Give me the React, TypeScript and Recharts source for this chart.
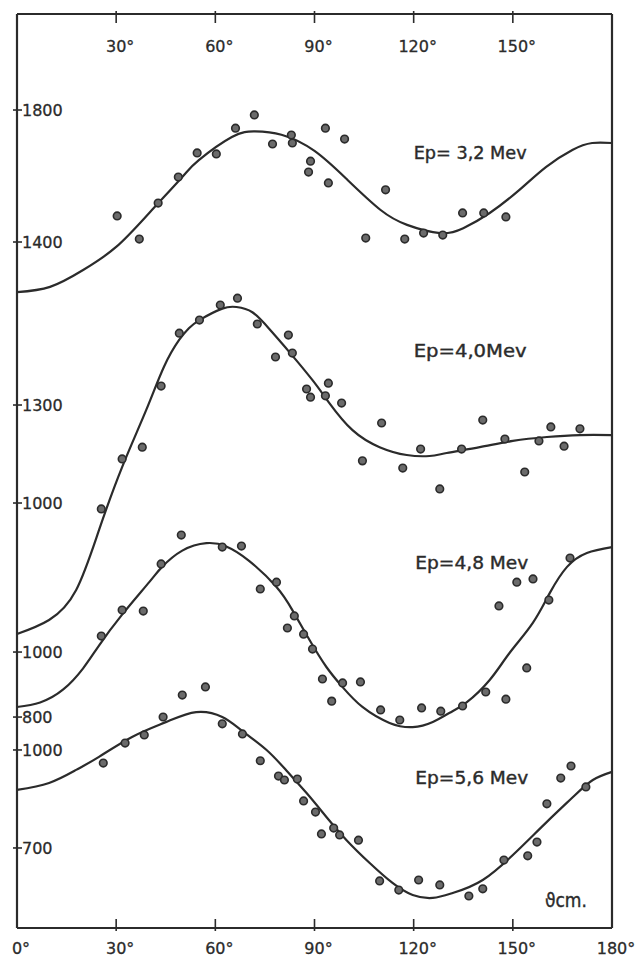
import React from 'react';
import { ComposedChart, Line, Scatter, XAxis, YAxis, ReferenceDot, ReferenceLine } from 'recharts';

// theta c.m. in degrees, counts
const curve32Deg = [0, 10, 20, 30, 40, 50, 55, 65, 72, 80, 90, 100, 110, 118, 128, 135, 143, 152, 160, 168, 174, 180];
const curve32Val = [1248, 1264, 1315, 1385, 1488, 1597, 1648, 1718, 1735, 1725, 1676, 1588, 1497, 1452, 1427, 1442, 1488, 1558, 1627, 1679, 1700, 1700];
const pts32Deg = [30.3, 37, 42.7, 48.8, 54.5, 60.3, 66.1, 71.8, 77.3, 83, 83.3, 88.8, 88.2, 93.3, 94.2, 99.1, 105.5, 111.5, 117.3, 123, 128.8, 134.8, 141.2, 147.9];
const pts32Val = [1479, 1409, 1518, 1597, 1670, 1667, 1745, 1785, 1697, 1724, 1700, 1645, 1612, 1745, 1579, 1712, 1412, 1558, 1409, 1427, 1421, 1488, 1488, 1476];

const curve40Deg = [0, 9.7, 17.9, 24.8, 31.8, 39.1, 44.5, 49.1, 52, 55.2, 62.1, 66.4, 71.2, 76.4, 82.4, 89.4, 94.5, 101.5, 109.7, 117.9, 124.8, 130, 140, 150, 160.3, 170.3, 180];
const curve40Val = [599, 642, 734, 917, 1110, 1285, 1418, 1500, 1535, 1560, 1595, 1600, 1584, 1532, 1462, 1376, 1306, 1223, 1171, 1147, 1144, 1153, 1171, 1190, 1202, 1208, 1208];
const pts40Deg = [25.5, 31.8, 37.9, 43.6, 49.1, 55.2, 61.5, 66.7, 72.7, 78.2, 82.1, 83.3, 87.6, 88.8, 94.2, 93.3, 98.2, 104.5, 110.3, 116.7, 122.1, 127.9, 134.5, 140.9, 147.6, 153.6, 157.9, 161.5, 165.5, 170.3];
const pts40Val = [982, 1135, 1171, 1358, 1520, 1560, 1606, 1627, 1548, 1447, 1514, 1459, 1349, 1324, 1367, 1328, 1306, 1129, 1245, 1107, 1165, 1043, 1165, 1254, 1196, 1095, 1190, 1233, 1174, 1227];

const curve48Deg = [0, 7, 14, 20, 24.8, 31.8, 40, 43.9, 50, 57.3, 63.3, 70.3, 78.5, 83.3, 88.5, 93.6, 98.5, 104.5, 112.7, 119.7, 125.8, 130.9, 136, 143, 149, 156, 161.2, 166.4, 172.4, 180];
const curve48Val = [831, 845, 885, 950, 1020, 1115, 1215, 1262, 1312, 1335, 1325, 1280, 1200, 1129, 1037, 954, 892, 831, 782, 769, 785, 813, 845, 914, 997, 1089, 1182, 1262, 1305, 1323];
const pts48Deg = [25.5, 31.8, 38.2, 43.6, 49.7, 62.1, 67.9, 73.6, 78.5, 81.8, 83.9, 86.7, 89.4, 92.4, 95.2, 98.5, 103.9, 110, 115.8, 122.4, 128.2, 134.8, 141.8, 147.9, 154.2, 145.8, 151.2, 156.1, 160.9, 167.3];
const pts48Val = [1049, 1129, 1126, 1271, 1360, 1323, 1326, 1194, 1215, 1074, 1111, 1055, 1009, 917, 849, 905, 908, 822, 791, 828, 818, 834, 877, 855, 951, 1142, 1215, 1225, 1160, 1289];

const curve56Deg = [0, 9.7, 17.9, 24.8, 34.8, 45.2, 54.2, 62.1, 68.2, 75.5, 81.5, 87.6, 93.6, 99.7, 106.7, 113.6, 119.7, 125.8, 131.8, 140.9, 151.2, 160.3, 168.2, 174.2, 180];
const curve56Val = [878, 899, 939, 979, 1040, 1086, 1116, 1101, 1058, 1000, 937, 868, 795, 724, 654, 593, 556, 547, 562, 602, 690, 780, 856, 908, 933];
const pts56Deg = [26.1, 32.7, 38.5, 44.2, 50, 57, 62.1, 68.2, 73.6, 79.1, 80.9, 84.8, 86.7, 90.3, 92.1, 95.8, 97.6, 103.3, 109.7, 115.5, 121.5, 127.9, 136.7, 140.9, 147.3, 154.5, 157.3, 160.3, 164.5, 167.6, 172.1];
const pts56Val = [960, 1021, 1046, 1101, 1168, 1193, 1080, 1049, 967, 920, 908, 911, 844, 810, 743, 761, 740, 724, 599, 571, 602, 587, 553, 575, 663, 676, 718, 835, 914, 951, 887];

const angleTicks = [0, 30, 60, 90, 120, 150, 180];
const ticks32 = [1400, 1800];
const ticks40 = [1000, 1300];
const ticks48 = [800, 1000];
const ticks56 = [700, 1000];

const INK = '#2b2b2b';
const NUM_FONT = '"DejaVu Sans", sans-serif';
const LBL_FONT = '"DejaVu Sans Condensed", "DejaVu Sans", sans-serif';

const zip = (a: number[], v: number[]) => a.map((x, i) => ({ a: x, v: v[i] }));

const panels = [
  { id: 'p32', xId: 't', domain: [-679, 2091], ticks: ticks32, curve: zip(curve32Deg, curve32Val), pts: zip(pts32Deg, pts32Val), label: 'Ep= 3,2 Mev', lx: 120, ly: 1652 },
  { id: 'p40', xId: 'b', domain: [-301, 2497], ticks: ticks40, curve: zip(curve40Deg, curve40Val), pts: zip(pts40Deg, pts40Val), label: 'Ep=4,0Mev', lx: 120, ly: 1447 },
  { id: 'p48', xId: 'b', domain: [151, 2963], ticks: ticks48, curve: zip(curve48Deg, curve48Val), pts: zip(pts48Deg, pts48Val), label: 'Ep=4,8 Mev', lx: 120.5, ly: 1255 },
  { id: 'p56', xId: 'b', domain: [455, 3253], ticks: ticks56, curve: zip(curve56Deg, curve56Val), pts: zip(pts56Deg, pts56Val), label: 'Ep=5,6 Mev', lx: 120.5, ly: 896 },
];

const numText = { fontFamily: NUM_FONT, fontSize: 16, fill: INK, stroke: INK, strokeWidth: 0.3 };

const BottomTick = (props: any) => {
  const { x, y, payload } = props;
  const v = payload.value;
  return (
    <g>
      {v > 0 && v < 180 && <line x1={x} x2={x} y1={y + 3} y2={y - 9} stroke={INK} strokeWidth={1.6} />}
      <text x={x + 4} y={y + 26} textAnchor="middle" {...numText}>{`${v}°`}</text>
    </g>
  );
};

const TopTick = (props: any) => {
  const { x, y, payload } = props;
  const v = payload.value;
  if (v <= 0 || v >= 180) return <g />;
  return (
    <g>
      <line x1={x} x2={x} y1={y - 3} y2={y + 9} stroke={INK} strokeWidth={1.6} />
      <text x={x + 4} y={y + 38} textAnchor="middle" {...numText}>{`${v}°`}</text>
    </g>
  );
};

const LeftTick = (props: any) => {
  const { x, y, payload, shift = 0 } = props;
  const ax = x + shift;
  return (
    <g>
      <line x1={ax - 4} x2={ax + 5} y1={y} y2={y} stroke={INK} strokeWidth={1.6} />
      <text x={ax + 5} y={y} dy="0.36em" {...numText}>{payload.value}</text>
    </g>
  );
};

const Dot = (p: any) => (
  <circle cx={p.cx} cy={p.cy} r={3.8} fill="#6b6b6b" stroke={INK} strokeWidth={1.6} />
);

const border = { stroke: INK, strokeWidth: 2.2 };

export default function App() {
  return (
    <div style={{ position: 'absolute', left: 0, top: 0, width: 641, height: 959, background: '#fff' }}>
      <ComposedChart width={641} height={959} margin={{ top: 13, right: 29, bottom: 30, left: 13 }}>
        <XAxis xAxisId="b" dataKey="a" type="number" domain={[0, 180]} ticks={angleTicks} interval={0}
          height={1} tickSize={0} tickMargin={0} tickLine={false} tick={<BottomTick />} axisLine={false} />
        <XAxis xAxisId="t" dataKey="a" orientation="top" type="number" domain={[0, 180]} ticks={angleTicks} interval={0}
          height={1} tickSize={0} tickMargin={0} tickLine={false} tick={<TopTick />} axisLine={false} />
        {panels.map((p, i) => (
          <YAxis key={p.id} yAxisId={p.id} dataKey="v" type="number" domain={p.domain} ticks={p.ticks} interval={0}
            width={1} tickSize={0} tickMargin={0} tickLine={false} tick={<LeftTick shift={i} />} axisLine={false} />
        ))}
        <ReferenceLine xAxisId="b" yAxisId="p56" x={0} {...border} ifOverflow="visible" />
        <ReferenceLine xAxisId="b" yAxisId="p56" x={180} {...border} ifOverflow="visible" />
        <ReferenceLine xAxisId="b" yAxisId="p56" y={455} {...border} ifOverflow="visible" />
        <ReferenceLine xAxisId="b" yAxisId="p56" y={3253} {...border} ifOverflow="visible" />
        {panels.map((p) => (
          <Line key={`l-${p.id}`} xAxisId={p.xId} yAxisId={p.id} data={p.curve} dataKey="v" type="natural"
            stroke={INK} strokeWidth={2.2} dot={false} activeDot={false} isAnimationActive={false} />
        ))}
        {panels.map((p) => (
          <Scatter key={`s-${p.id}`} xAxisId={p.xId} yAxisId={p.id} data={p.pts} dataKey="v"
            shape={<Dot />} isAnimationActive={false} />
        ))}
        {panels.map((p) => (
          <ReferenceDot key={`t-${p.id}`} xAxisId="b" yAxisId={p.id} x={p.lx} y={p.ly} r={0} ifOverflow="visible"
            shape={(s: any) => (
              <text x={s.cx} y={s.cy} fontFamily={LBL_FONT} fontSize={17} fill={INK} stroke={INK} strokeWidth={0.35}
                textLength={113} lengthAdjust="spacingAndGlyphs">{p.label}</text>
            )} />
        ))}
        <ReferenceDot xAxisId="b" yAxisId="p56" x={159.7} y={519} r={0} ifOverflow="visible"
          shape={(s: any) => (
            <text x={s.cx} y={s.cy} fontFamily={LBL_FONT} fontSize={19} fill={INK} stroke={INK} strokeWidth={0.35}>ϑcm.</text>
          )} />
      </ComposedChart>
    </div>
  );
}
